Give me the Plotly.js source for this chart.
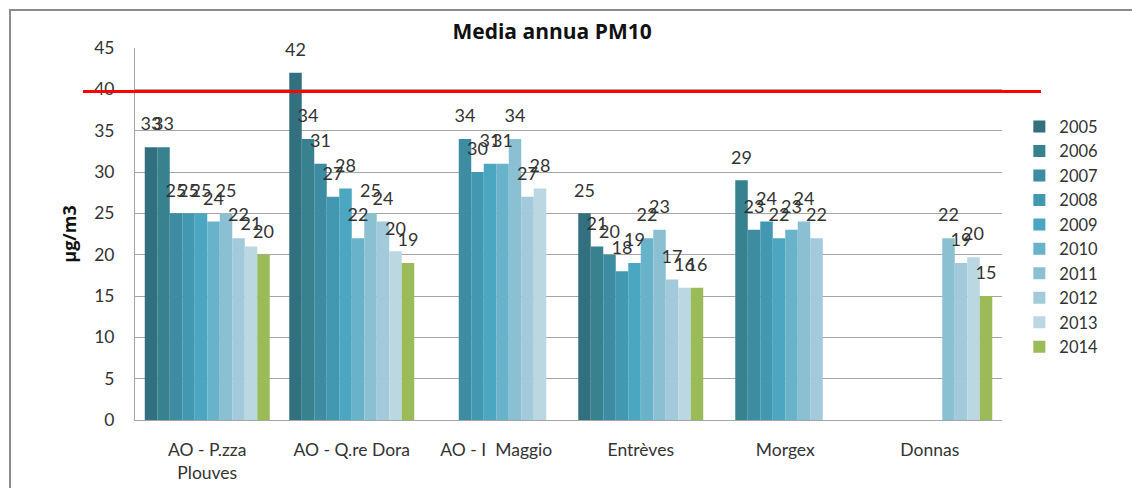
<!DOCTYPE html>
<html>
<head>
<meta charset="utf-8">
<script src="https://cdn.plot.ly/plotly-3.0.1.min.js"></script>
<style>
    body { margin: 0; background: #fff; }
    #wrap { position: relative; width: 1132px; height: 488px; overflow: hidden; }
    #chart { width: 1132px; height: 488px; }
    #frame {
        position: absolute; left: 9px; top: 9px; width: 1140px; height: 500px;
        border: 2px solid #8c8c8c; pointer-events: none;
    }
    #limit {
        position: absolute; left: 83px; width: 958px; height: 3px;
        background: #ff0000; pointer-events: none; display: none;
    }
</style>
</head>
<body>
<div id="wrap">
    <div id="chart"></div>
    <div id="limit"></div>
    <div id="frame"></div>
</div>
<script>
    /*--------------------------------------------------------------------------
        +++ Data: annual mean PM10 by station and year
    --------------------------------------------------------------------------*/
    var stations = ['AO - P.zza<br>Plouves', 'AO - Q.re Dora', 'AO - I\u00a0 Maggio', 'Entrèves', 'Morgex', 'Donnas'];
    var years = ['2005', '2006', '2007', '2008', '2009', '2010', '2011', '2012', '2013', '2014'];

    // one array per year, same order as stations (null = no data)
    var y2005 = [33, 42, null, 25, null, null];
    var y2006 = [33, 34, null, 21, 29, null];
    var y2007 = [25, 31, 34, 20, 23, null];
    var y2008 = [25, 27, 30, 18, 24, null];
    var y2009 = [25, 28, 31, 19, 22, null];
    var y2010 = [24, 22, 31, 22, 23, null];
    var y2011 = [25, 25, 34, 23, 24, 22];
    var y2012 = [22, 24, 27, 17, 22, 19];
    var y2013 = [21, 20.4, 28, 16, null, 19.7];
    var y2014 = [20, 19, null, 16, null, 15];
    var limitValue = 39.7;

    var yearValues = [y2005, y2006, y2007, y2008, y2009, y2010, y2011, y2012, y2013, y2014];
    var colors = ['#33707f', '#38818f', '#3d8ca1', '#4398b1', '#4ba6c2', '#68b2ca', '#8bc0d2', '#a3cadb', '#bad7e2', '#9bbb59'];

    var font = 'Lato, "Open Sans", sans-serif';
    var gap = 0.135;
    var yMax = 45;

    //Set up bars
    var allData = [];
    years.forEach(function (yr, i) {
        allData.push({
            x: stations,
            y: yearValues[i],
            name: yr,
            type: 'bar',
            marker: { color: colors[i], line: { width: 0 } }
        });
    });

    //value labels: invisible markers, grouped like the bars, text sits above
    years.forEach(function (yr, i) {
        allData.push({
            x: stations,
            y: yearValues[i],
            name: yr,
            type: 'scatter',
            mode: 'markers+text',
            showlegend: false,
            text: yearValues[i].map(function (v) { return v === null ? '' : Math.round(v).toString(); }),
            textposition: 'top center',
            cliponaxis: false,
            textfont: { family: font, size: 18, color: '#333333' },
            marker: { size: 18, opacity: 0, color: colors[i] }
        });
    });

    var layout = {
        width: 1132,
        height: 488,
        margin: { l: 135, r: 130, t: 48, b: 68 },
        paper_bgcolor: '#ffffff',
        plot_bgcolor: 'rgba(0,0,0,0)',
        font: { family: font, size: 17, color: '#333333' },
        title: {
            text: '<b>Media annua PM10</b>',
            font: { family: '"Open Sans", sans-serif', size: 21, color: '#111111' },
            x: 0.4877, xanchor: 'center',
            y: 0.935, yanchor: 'middle', yref: 'container'
        },
        barmode: 'group',
        bargap: gap,
        bargroupgap: 0,
        scattermode: 'group',
        scattergap: gap,
        showlegend: true,
        legend: {
            x: 1.02, xanchor: 'left',
            y: 0.835, yanchor: 'top',
            bgcolor: 'rgba(0,0,0,0)',
            font: { family: font, size: 16.5, color: '#333333' },
            tracegroupgap: 0,
            itemwidth: 30
        },
        xaxis: {
            showgrid: false,
            showline: true,
            linecolor: '#a6a6a6',
            linewidth: 1,
            ticks: '',
            ticklabelstandoff: 14,
            tickfont: { family: font, size: 17.5, color: '#333333' }
        },
        yaxis: {
            range: [0, yMax],
            dtick: 5,
            showgrid: true,
            gridcolor: '#a6a6a6',
            gridwidth: 1,
            showline: true,
            linecolor: '#a6a6a6',
            zeroline: false,
            ticks: '',
            ticklabelstandoff: 16,
            tickfont: { family: font, size: 17.5, color: '#333333' },
            title: {
                text: '<b>µg/m3</b>',
                font: { family: '"Open Sans", sans-serif', size: 18, color: '#111111' },
                standoff: 12
            }
        }
    };

    //plot, then lay the red limit line across the whole chart at the y of limitValue
    Plotly.newPlot('chart', allData, layout, { displayModeBar: false, staticPlot: true }).then(function (gd) {
        var fl = gd._fullLayout;
        var yPix = fl._size.t + fl.yaxis.l2p(limitValue);
        var lim = document.getElementById('limit');
        lim.style.top = (yPix - 1.5) + 'px';
        lim.style.display = 'block';
    });
</script>
</body>
</html>
